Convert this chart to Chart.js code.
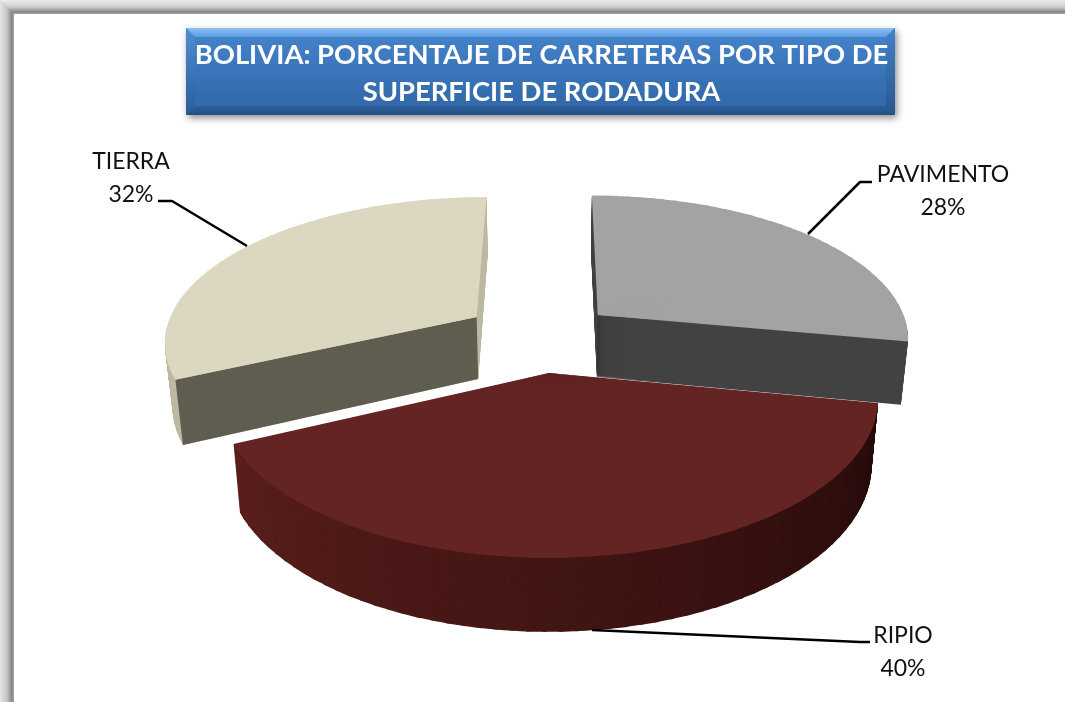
<!DOCTYPE html>
<html lang="es">
<head>
<meta charset="utf-8">
<title>Bolivia: carreteras</title>
<style>html,body{margin:0;padding:0;background:#fff}canvas{display:block}</style>
<script src="https://cdn.jsdelivr.net/npm/chart.js@4"></script>
</head>
<body>
<canvas id="c" width="1065" height="702"></canvas>
<script>
// ---- data ----
const categories = ["PAVIMENTO", "RIPIO", "TIERRA"];
const percentages = [28, 40, 32];
const titleLines = ["BOLIVIA: PORCENTAJE DE CARRETERAS POR TIPO DE", "SUPERFICIE DE RODADURA"];

// ---- style ----
const faceColors = ["#a3a3a3", "#632423", "#dbd7c0"];
const rimStart = ["#434343", "#260b0b", "#bdb9a3"];
const rimEnd = ["#434343", "#5a1f1c", "#bdb9a3"];
const startFaceColors = [null, null, "#5f5c50"];
const explode = [[0.15, -0.212], [-0.009, 0.186], [-0.246, -0.197]];
const drawOrder = [1, 0, 2];

// perspective view of the tilted pie
const VIEW = {x0: 552, k: 0.334, yv: -600, c0: 1 / 945, c1: 1.64e-4};
function project(X, Y) {
  const h = 1 / (VIEW.c0 - VIEW.c1 * Y);
  return [VIEW.x0 + VIEW.k * X * h, VIEW.yv + h];
}
function extrude(p, t) {
  return [VIEW.x0 + (p[0] - VIEW.x0) * (1 - 0.02 * t), p[1] + t * (46.44 + 0.0494 * p[1])];
}
const hex = s => [1, 3, 5].map(i => parseInt(s.substr(i, 2), 16));
const mix = (a, b, t) => { const A = hex(a), B = hex(b); return `rgb(${A.map((v, i) => Math.round(v + (B[i] - v) * t)).join(",")})`; };

function drawWedge(ctx, arc, i, a0, a1, overlap, t, fill, shrink) {
  const R = arc.outerRadius, off = explode[i], sc = shrink || 1;
  const ua = [Math.cos(a0), Math.sin(a0)], ub = [Math.cos(a1), Math.sin(a1)];
  const pt = p => extrude(p, t);
  const P0 = pt(project(off[0], off[1]));
  const Pa = pt(project(off[0] + ua[0], off[1] + ua[1]));
  const Pb = pt(project(off[0] + ub[0], off[1] + ub[1]));
  const det = ua[0] * ub[1] - ua[1] * ub[0];
  const ax = (Pa[0] - P0[0]) * sc, ay = (Pa[1] - P0[1]) * sc, bx = (Pb[0] - P0[0]) * sc, by = (Pb[1] - P0[1]) * sc;
  const m11 = (ax * ub[1] - bx * ua[1]) / det, m12 = (bx * ua[0] - ax * ub[0]) / det;
  const m21 = (ay * ub[1] - by * ua[1]) / det, m22 = (by * ua[0] - ay * ub[0]) / det;
  const a = m11 / R, c = m12 / R, b = m21 / R, d = m22 / R;
  ctx.save();
  ctx.transform(a, b, c, d, P0[0] - a * arc.x - c * arc.y, P0[1] - b * arc.x - d * arc.y);
  const saved = {s: arc.startAngle, e: arc.endAngle, c: arc.circumference, o: arc.options};
  arc.startAngle = a0; arc.endAngle = a1 + overlap; arc.circumference = a1 + overlap - a0;
  arc.options = Object.assign({}, saved.o, {backgroundColor: fill, borderWidth: 0, offset: 0, spacing: 0});
  arc.draw(ctx);
  arc.startAngle = saved.s; arc.endAngle = saved.e; arc.circumference = saved.c; arc.options = saved.o;
  ctx.restore();
}

const pie3d = {
  id: "pie3d",
  beforeDraw(chart) {
    const ctx = chart.ctx, W = chart.width, H = chart.height;
    ctx.save();
    ctx.fillStyle = "#fff"; ctx.fillRect(0, 0, W, H);
    let g = ctx.createLinearGradient(0, 0, 0, 14);
    g.addColorStop(0, "#ececec"); g.addColorStop(0.5, "#cfcfcf"); g.addColorStop(0.85, "#868686"); g.addColorStop(1, "#a5a5a5");
    ctx.fillStyle = g; ctx.fillRect(0, 0, W, 14);
    g = ctx.createLinearGradient(0, 0, 14, 0);
    g.addColorStop(0, "#e6e6e6"); g.addColorStop(0.5, "#c4c4c4"); g.addColorStop(0.85, "#868686"); g.addColorStop(1, "#a5a5a5");
    ctx.fillStyle = g;
    ctx.beginPath(); ctx.moveTo(0, 0); ctx.lineTo(14, 14); ctx.lineTo(14, H); ctx.lineTo(0, H); ctx.closePath(); ctx.fill();

    // title box with bevel and shadow
    const x = 186, y = 28, w = 709, h = 87, bv = 9;
    ctx.save();
    ctx.shadowColor = "rgba(0,0,0,0.45)"; ctx.shadowBlur = 7; ctx.shadowOffsetX = 2; ctx.shadowOffsetY = 3;
    g = ctx.createLinearGradient(0, y, 0, y + h);
    g.addColorStop(0, "#4584cc"); g.addColorStop(1, "#2f66a6");
    ctx.fillStyle = g; ctx.fillRect(x, y, w, h);
    ctx.restore();
    const quad = (pts, col) => { ctx.fillStyle = col; ctx.beginPath(); pts.forEach((p, n) => n ? ctx.lineTo(p[0], p[1]) : ctx.moveTo(p[0], p[1])); ctx.closePath(); ctx.fill(); };
    g = ctx.createLinearGradient(0, y, 0, y + bv); g.addColorStop(0, "#8cc0f2"); g.addColorStop(1, "#5c9ce2");
    quad([[x, y], [x + w, y], [x + w - bv, y + bv], [x + bv, y + bv]], g);
    g = ctx.createLinearGradient(0, y + h - bv, 0, y + h); g.addColorStop(0, "#2d5f9c"); g.addColorStop(1, "#244e82");
    quad([[x, y + h], [x + w, y + h], [x + w - bv, y + h - bv], [x + bv, y + h - bv]], g);
    g = ctx.createLinearGradient(x, y, x, y + h); g.addColorStop(0, "#4f8ed6"); g.addColorStop(1, "#2b5c97");
    quad([[x, y], [x + bv, y + bv], [x + bv, y + h - bv], [x, y + h]], g);
    g = ctx.createLinearGradient(x, y, x, y + h); g.addColorStop(0, "#4482c9"); g.addColorStop(1, "#28568e");
    quad([[x + w, y], [x + w - bv, y + bv], [x + w - bv, y + h - bv], [x + w, y + h]], g);
    ctx.restore();
  },
  beforeDatasetsDraw(chart) {
    const ctx = chart.ctx, meta = chart.getDatasetMeta(0);
    const step = Math.PI / 72, overlap = 0.012, layers = 76;
    ctx.save();
    drawOrder.forEach(i => {
      const arc = meta.data[i], s = arc.startAngle, e = arc.endAngle;
      const n = Math.max(1, Math.round((e - s) / step));
      const sub = k => s + (e - s) * k / n;
      // side wall: swept down from bottom to top
      for (let l = layers; l >= 1; l--) {
        const t = l / layers;
        for (let k = 0; k < n; k++) {
          drawWedge(ctx, arc, i, sub(k), sub(k + 1), k < n - 1 ? overlap : 0, t, mix(rimStart[i], rimEnd[i], k / (n - 1)));
        }
      }
      // cut face along the starting edge
      if (startFaceColors[i]) {
        const off = explode[i];
        const a = project(off[0], off[1]);
        const b = project(off[0] + Math.cos(s), off[1] + Math.sin(s));
        const a2 = extrude(a, 1), b2 = extrude(b, 1);
        ctx.fillStyle = startFaceColors[i];
        ctx.beginPath(); ctx.moveTo(a[0], a[1]); ctx.lineTo(b[0], b[1]); ctx.lineTo(b2[0], b2[1]); ctx.lineTo(a2[0], a2[1]); ctx.closePath(); ctx.fill();
      }
      // top face: an opaque core first, so the fine wedges leave no fringe near the apex
      drawWedge(ctx, arc, i, s + 0.02, e - 0.02, 0, 0, faceColors[i], 0.8);
      for (let k = 0; k < n; k++) {
        drawWedge(ctx, arc, i, sub(k), sub(k + 1), k < n - 1 ? overlap : 0, 0, faceColors[i]);
      }
    });
    ctx.restore();
    return false;
  },
  afterDraw(chart) {
    const ctx = chart.ctx;
    const leaders = [
      [[808, 234], [860, 182], [872, 182]],
      [[592, 630], [860, 642], [870, 642]],
      [[247, 246], [172, 201], [158, 201]]
    ];
    const labelAt = [[943, 174.5, 207.5], [903, 636, 669], [131, 162, 195]];
    ctx.save();
    ctx.strokeStyle = "#000"; ctx.lineWidth = 2.5; ctx.lineJoin = "round";
    leaders.forEach(p => { ctx.beginPath(); p.forEach((q, n) => n ? ctx.lineTo(q[0], q[1]) : ctx.moveTo(q[0], q[1])); ctx.stroke(); });
    ctx.fillStyle = "#111"; ctx.font = '23px Lato, "Open Sans", sans-serif';
    ctx.textAlign = "center"; ctx.textBaseline = "middle";
    categories.forEach((c, i) => {
      ctx.fillText(c, labelAt[i][0], labelAt[i][1]);
      ctx.fillText(percentages[i] + "%", labelAt[i][0], labelAt[i][2]);
    });
    ctx.restore();
  }
};

new Chart(document.getElementById("c"), {
  type: "pie",
  data: {labels: categories, datasets: [{data: percentages, backgroundColor: faceColors, borderWidth: 0}]},
  options: {
    responsive: false, animation: false,
    layout: {padding: {left: 18, top: 37}},
    plugins: {
      legend: {display: false}, tooltip: {enabled: false},
      title: {
        display: true, text: titleLines, color: "#fff",
        font: {family: 'Lato, "Open Sans", sans-serif', size: 27.4, weight: "bold", lineHeight: 1.35},
        padding: {top: 0, bottom: 10}
      }
    }
  },
  plugins: [pie3d]
});
</script>
</body>
</html>
